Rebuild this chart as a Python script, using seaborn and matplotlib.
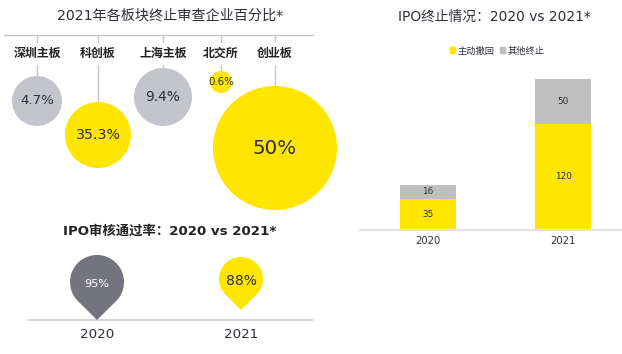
import matplotlib; matplotlib.use('Agg')
import numpy as np
import pandas as pd
import matplotlib.pyplot as plt
import seaborn as sns
from matplotlib.patches import Patch

# data
boards = ['深圳主板', '科创板', '上海主板', '北交所', '创业板']
board_pct = [4.7, 35.3, 9.4, 0.6, 50]

pass_years = ['2020', '2021']
pass_rate = [95, 88]

stop_years = ['2020', '2021']
withdrawn = [35, 120]
other_stop = [16, 50]

# layout / style (pixel space of the 622x354 canvas)
YELLOW = '#FFE600'
GRAY = '#C4C4CD'
DARK = '#747480'
BAR_GRAY = '#BFBFBF'
TXT = '#2E2E38'
board_x = [37, 98, 163, 221, 275]
board_y = [101, 135, 97, 82, 148]
board_r = [25, 33, 29, 11, 62]
board_col = [GRAY, YELLOW, GRAY, YELLOW, YELLOW]
board_fs = [9.6, 10.2, 9.9, 7.4, 14.3]
pin_x = [97, 241]
pin_y = [282, 279]
pin_r = [27, 22]
pin_tip = [320, 310]
pin_col = [DARK, YELLOW]
pin_txt = ['white', TXT]
pin_fs = [8.1, 10]

sns.set_theme(style='white')
plt.rcParams['font.family'] = ['DejaVu Sans', 'Noto Sans CJK SC']

fig = plt.figure(figsize=(6.22, 3.54), dpi=100)
ax = fig.add_axes([0, 0, 1, 1])

# ---- bubbles: share of terminated reviews by board
ax.text(170, 15, '2021年各板块终止审查企业百分比*', ha='center', va='center', fontsize=10.2, color=TXT)
ax.plot([4, 313], [35, 35], color='#C8C8C8', lw=1, zorder=1)
for i, b in enumerate(boards):
    x = board_x[i]
    ax.plot([x, x], [35, 42], color='#C8C8C8', lw=1, zorder=1)
    ax.text(x, 53, b, ha='center', va='center', fontsize=8.6, fontweight='bold', color='#222222')
    ax.plot([x, x], [65, board_y[i]], color='#C8C8C8', lw=1, zorder=1)

bub = pd.DataFrame({'board': boards, 'pct': board_pct, 'x': board_x, 'y': board_y})
sizes = [(2 * r * 72 / 100) ** 2 for r in board_r]
sns.scatterplot(data=bub, x='x', y='y', hue='board', palette=dict(zip(boards, board_col)),
                s=sizes, linewidth=0, legend=False, ax=ax, zorder=2)
ax.set_xlim(0, 622)
ax.set_ylim(354, 0)
ax.axis('off')
for i, row in bub.iterrows():
    lab = f"{row['pct']:g}%"
    ax.text(row['x'], row['y'], lab, ha='center', va='center', fontsize=board_fs[i], color=TXT, zorder=3)

# ---- pins: IPO approval rate
ax.text(170, 231, 'IPO审核通过率：2020 vs 2021*', ha='center', va='center', fontsize=9.6,
        fontweight='bold', color='#222222')
ax.plot([28, 313], [320, 320], color='#D0D0D0', lw=1.2, zorder=1)
for i, yr in enumerate(pass_years):
    cx, cy, r, tip = pin_x[i], pin_y[i], pin_r[i], pin_tip[i]
    a = np.arccos(r / (tip - cy))
    t = np.linspace(a, 2 * np.pi - a, 90)
    pts = np.column_stack([cx + r * np.sin(t), cy + r * np.cos(t)])
    pts = np.vstack([pts, [cx, tip]])
    ax.add_patch(plt.Polygon(pts, closed=True, facecolor=pin_col[i], edgecolor='none', zorder=2))
    ax.text(cx, cy + 2, f'{pass_rate[i]}%', ha='center', va='center', fontsize=pin_fs[i],
            color=pin_txt[i], zorder=3)
    ax.text(cx, 335, yr, ha='center', va='center', fontsize=9.6, color=TXT)

# ---- stacked bars: IPO terminations
ax.text(494, 17, 'IPO终止情况：2020 vs 2021*', ha='center', va='center', fontsize=9.9, color=TXT)
bx = fig.add_axes([360 / 622, 1 - 230 / 354, 262 / 622, 170 / 354])
bx.set_facecolor('none')
totals = [w + o for w, o in zip(withdrawn, other_stop)]
sns.barplot(x=stop_years, y=totals, color=BAR_GRAY, width=0.41, saturation=1, linewidth=0, ax=bx)
sns.barplot(x=stop_years, y=withdrawn, color=YELLOW, width=0.41, saturation=1, linewidth=0, ax=bx)
bx.bar_label(bx.containers[1], label_type='center', fontsize=6.4, color=TXT)
for i in range(len(stop_years)):
    bx.text(i, withdrawn[i] + other_stop[i] / 2, str(other_stop[i]), ha='center', va='center',
            fontsize=6.4, color=TXT)
bx.set_xlim(-0.504, 1.437)
bx.set_ylim(0, 192)
bx.set_ylabel('')
bx.set_yticks([])
for s in ['left', 'right', 'top']:
    bx.spines[s].set_visible(False)
bx.spines['bottom'].set_color('#E3E3E3')
bx.spines['bottom'].set_linewidth(1.5)
bx.tick_params(axis='x', length=0, pad=4, labelsize=7.2, labelcolor=TXT)

handles = [Patch(color=YELLOW, label='主动撤回'), Patch(color=BAR_GRAY, label='其他终止')]
fig.legend(handles=handles, loc='center', bbox_to_anchor=(497 / 622, 1 - 51 / 354), ncol=2,
           frameon=False, fontsize=6.7, handlelength=0.6, handleheight=0.6, handletextpad=0.2,
           columnspacing=0.6, labelcolor=TXT)

fig.savefig('out.png', dpi=100)
